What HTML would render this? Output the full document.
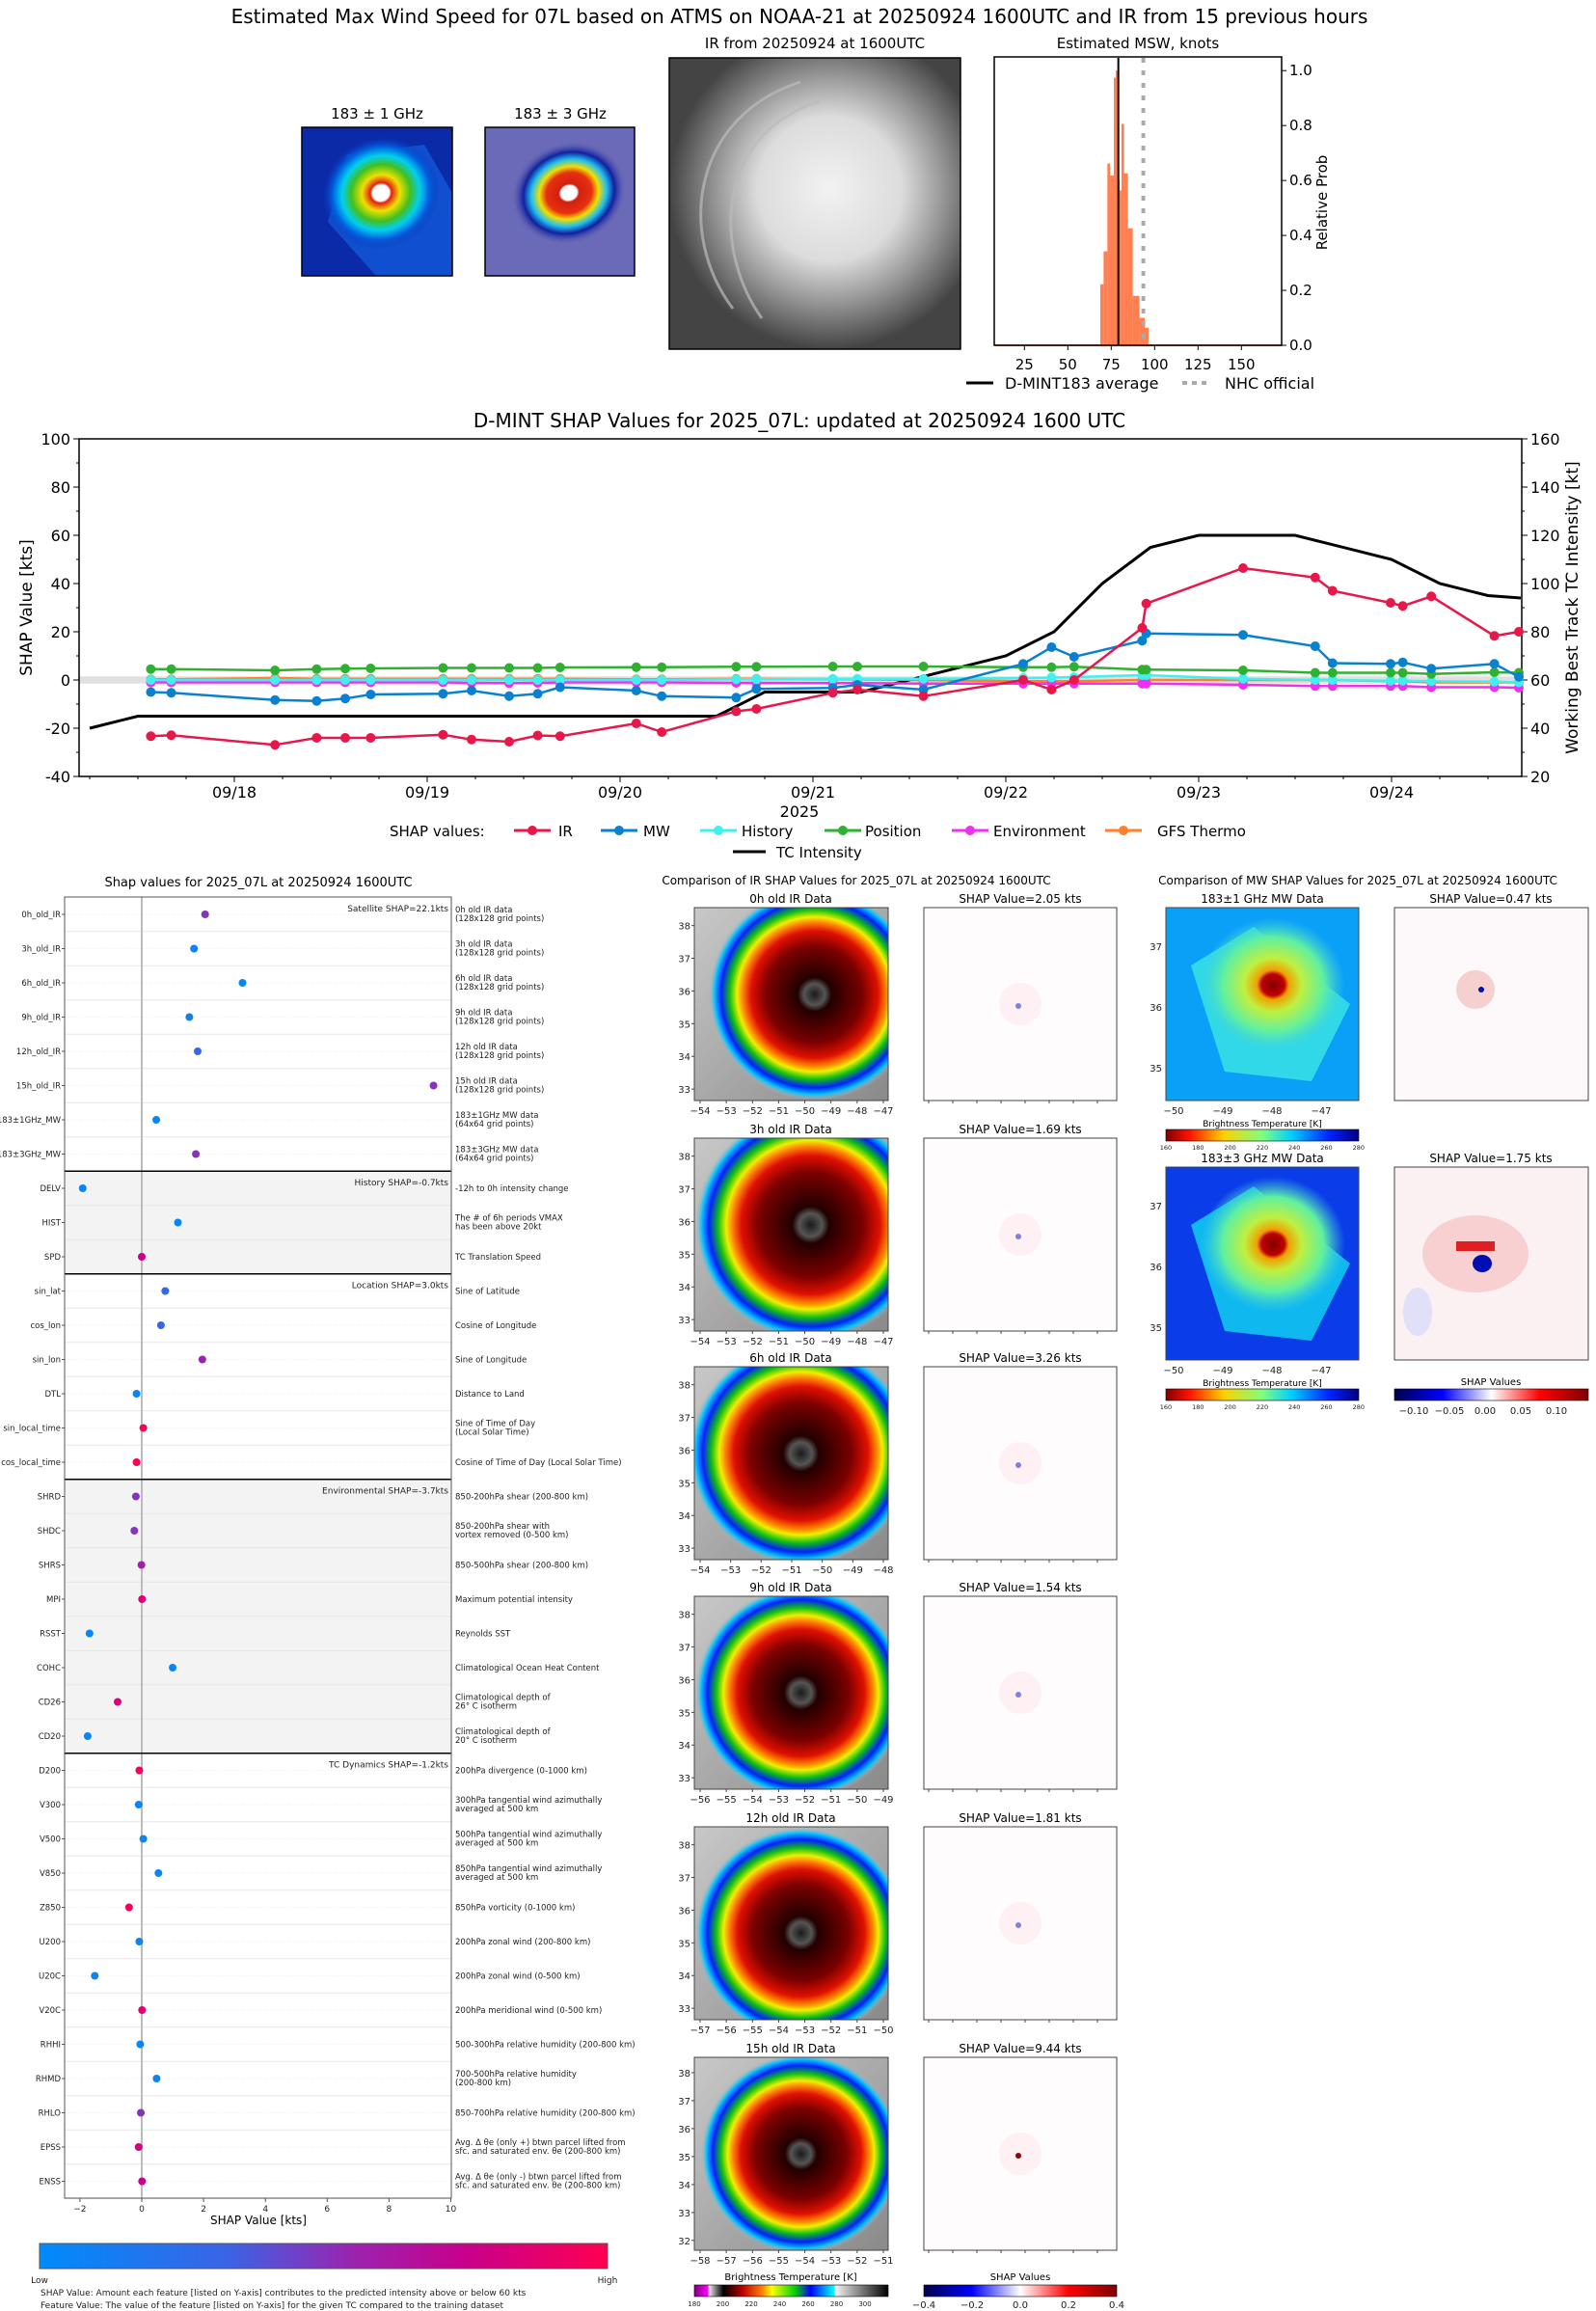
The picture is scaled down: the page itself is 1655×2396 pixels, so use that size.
<!DOCTYPE html>
<html><head><meta charset="utf-8"><title>D-MINT SHAP</title>
<style>
html,body{margin:0;padding:0;background:#fff;}
svg{display:block;font-family:"DejaVu Sans","Liberation Sans",sans-serif;}
</style></head>
<body>
<svg id="root" xmlns="http://www.w3.org/2000/svg" width="1655" height="2396" viewBox="0 0 1655 2396">
<defs>
 <radialGradient id="irg" cx="0.5" cy="0.5" r="0.5">
  <stop offset="0" stop-color="#1a1a1a"/><stop offset="0.1" stop-color="#555"/>
  <stop offset="0.16" stop-color="#220000"/><stop offset="0.45" stop-color="#7a0000"/>
  <stop offset="0.6" stop-color="#e01000"/><stop offset="0.68" stop-color="#ff8800"/>
  <stop offset="0.73" stop-color="#f0f000"/><stop offset="0.8" stop-color="#10c010"/>
  <stop offset="0.88" stop-color="#0020ff"/><stop offset="0.94" stop-color="#00c0ff"/>
  <stop offset="1" stop-color="#bbbbbb" stop-opacity="0"/>
 </radialGradient>
 <linearGradient id="grayg" x1="0" y1="0" x2="1" y2="1"><stop offset="0" stop-color="#c8c8c8"/><stop offset="1" stop-color="#8a8a8a"/></linearGradient>
 <radialGradient id="topir" cx="0.55" cy="0.45" r="0.55">
  <stop offset="0" stop-color="#f2f2f2"/><stop offset="0.45" stop-color="#dcdcdc"/><stop offset="0.7" stop-color="#999"/><stop offset="1" stop-color="#444"/>
 </radialGradient>
 <radialGradient id="mw1" cx="0.5" cy="0.5" r="0.5">
  <stop offset="0" stop-color="#ffffff"/><stop offset="0.14" stop-color="#ffffff"/><stop offset="0.18" stop-color="#e02010"/>
  <stop offset="0.32" stop-color="#f0e000"/><stop offset="0.5" stop-color="#40c020"/><stop offset="0.66" stop-color="#00d0f0"/>
  <stop offset="0.82" stop-color="#0060e0"/><stop offset="1" stop-color="#1030b0" stop-opacity="0"/>
 </radialGradient>
 <radialGradient id="mw3" cx="0.5" cy="0.5" r="0.5">
  <stop offset="0" stop-color="#ffffff"/><stop offset="0.14" stop-color="#ffffff"/><stop offset="0.18" stop-color="#d02010"/>
  <stop offset="0.4" stop-color="#e83010"/><stop offset="0.52" stop-color="#f0e000"/><stop offset="0.66" stop-color="#20c0f0"/>
  <stop offset="0.8" stop-color="#1020a0"/><stop offset="1" stop-color="#6060b0" stop-opacity="0"/>
 </radialGradient>
 <radialGradient id="mwr" cx="0.5" cy="0.5" r="0.5">
  <stop offset="0" stop-color="#800000"/><stop offset="0.16" stop-color="#c00000"/><stop offset="0.22" stop-color="#f0a000"/>
  <stop offset="0.4" stop-color="#c0f040"/><stop offset="0.7" stop-color="#60f0a0"/><stop offset="1" stop-color="#40d0e0" stop-opacity="0"/>
 </radialGradient>
 <linearGradient id="shapcb" x1="0" x2="1"><stop offset="0" stop-color="#008bfb"/><stop offset="0.33" stop-color="#3a64e6"/><stop offset="0.55" stop-color="#9a24b0"/><stop offset="0.75" stop-color="#c8008c"/><stop offset="1" stop-color="#ff0051"/></linearGradient>
 <linearGradient id="jetr" x1="0" x2="1"><stop offset="0" stop-color="#800000"/><stop offset="0.12" stop-color="#ff1000"/><stop offset="0.3" stop-color="#ffd000"/><stop offset="0.5" stop-color="#80ff80"/><stop offset="0.65" stop-color="#00d0ff"/><stop offset="0.85" stop-color="#0020ff"/><stop offset="1" stop-color="#000080"/></linearGradient>
 <linearGradient id="seis" x1="0" x2="1"><stop offset="0" stop-color="#00004c"/><stop offset="0.25" stop-color="#0000ff"/><stop offset="0.5" stop-color="#ffffff"/><stop offset="0.75" stop-color="#ff0000"/><stop offset="1" stop-color="#800000"/></linearGradient>
 <linearGradient id="ircb" x1="0" x2="1">
  <stop offset="0" stop-color="#800080"/><stop offset="0.07" stop-color="#ff00ff"/><stop offset="0.075" stop-color="#eee"/><stop offset="0.15" stop-color="#000"/>
  <stop offset="0.25" stop-color="#c00000"/><stop offset="0.35" stop-color="#ff8000"/><stop offset="0.4" stop-color="#ffff00"/><stop offset="0.52" stop-color="#00d000"/>
  <stop offset="0.6" stop-color="#0000ff"/><stop offset="0.72" stop-color="#00ffff"/><stop offset="0.73" stop-color="#f0f0f0"/><stop offset="1" stop-color="#000"/>
 </linearGradient>
</defs>
</svg>
<script>
// ---------------- DATA ----------------
const histEdges = [68.7,70.6,72.8,74.3,76.5,77.6,78.7,79.8,80.9,82.4,84.6,87.4,91.3,94.3,96.5];
const histProbs = [0.222,0.342,0.662,0.618,0.974,1.0,0.6,0.564,0.806,0.626,0.426,0.18,0.10,0.064];
const histMean = 79.1;
const nhcOfficial = 93.5;
const histXTicks = [25,50,75,100,125,150];
const histYTicks = [0.0,0.2,0.4,0.6,0.8,1.0];

const shapTimes = [-0.433,-0.327,0.211,0.427,0.575,0.707,1.082,1.230,1.425,1.573,1.689,2.084,2.216,2.602,2.707,3.103,3.230,3.573,4.090,4.237,4.354,4.707,4.728,5.230,5.604,5.694,5.995,6.058,6.206,6.533,6.660];
const irShap  = [-23.3,-22.9,-26.9,-24,-24,-24,-22.7,-24.7,-25.6,-23,-23.3,-18,-21.6,-13,-12,-5.3,-4,-6.7,0,-4,0,21.6,31.7,46.4,42.5,37,32,30.7,34.7,18.3,20];
const mwShap  = [-5,-5.3,-8.3,-8.7,-7.7,-6,-5.7,-4.4,-6.7,-5.7,-3,-4.4,-6.7,-7.3,-3.7,-3.3,-2,-4,6.7,13.6,9.6,16.3,19.3,18.7,14,7,6.7,7.3,4.7,6.7,1.3];
const histShap= [0,0,0,0,0,0,0,0,0,0,0,0,0,0.3,0.3,0.5,0.5,0.5,0.8,1,1.2,2,2,0.5,0,0,-0.3,-0.3,-0.5,-0.7,-1];
const posShap = [4.5,4.5,4,4.5,4.7,4.8,5,5,5,5,5.2,5.3,5.3,5.5,5.5,5.6,5.6,5.6,5.3,5.3,5.5,4.3,4.3,4,3,3,3,3,2.5,3.2,3];
const envShap = [-1,-1,-1,-1,-1,-1,-1,-1.2,-1.3,-1.2,-1,-1,-1,-1.2,-1.2,-1.3,-1.3,-1.5,-1.5,-1.5,-1.5,-1.5,-1.5,-2,-2.5,-2.5,-2.5,-2.5,-3,-3,-3.2];
const gfsShap = [0.3,0.3,0.8,0.5,0.5,0.5,0.5,0.5,0.5,0.5,0.5,0.3,0.3,0.5,0.5,0.3,0.3,0,-0.5,-0.5,-0.5,0,0,0,0,0,-0.5,-0.5,-1,-1,-1];
const tcTimes = [-0.75,-0.5,2.5,2.75,3.25,4,4.25,4.5,4.75,5,5.5,6,6.25,6.5,6.67];
const tcKts   = [40,45,45,55,55,70,80,100,115,120,120,110,100,95,94];
const dateLabels = ["09/18","09/19","09/20","09/21","09/22","09/23","09/24"];
const leftTicks = [-40,-20,0,20,40,60,80,100];
const rightTicks = [20,40,60,80,100,120,140,160];

const featNames = ["0h_old_IR","3h_old_IR","6h_old_IR","9h_old_IR","12h_old_IR","15h_old_IR","183±1GHz_MW","183±3GHz_MW","DELV","HIST","SPD","sin_lat","cos_lon","sin_lon","DTL","sin_local_time","cos_local_time","SHRD","SHDC","SHRS","MPI","RSST","COHC","CD26","CD20","D200","V300","V500","V850","Z850","U200","U20C","V20C","RHHI","RHMD","RHLO","EPSS","ENSS"];
const featShap = [2.05,1.69,3.26,1.54,1.81,9.44,0.47,1.75,-1.91,1.17,0.0,0.76,0.62,1.96,-0.17,0.05,-0.17,-0.19,-0.24,-0.01,0.01,-1.69,1.0,-0.78,-1.75,-0.08,-0.1,0.05,0.54,-0.41,-0.08,-1.52,0.01,-0.05,0.48,-0.03,-0.1,0.01];
const featValue = [0.5,0.1,0.05,0.1,0.3,0.5,0.05,0.5,0.05,0.05,0.75,0.3,0.3,0.55,0.05,0.97,0.97,0.5,0.5,0.6,0.85,0.05,0.05,0.85,0.05,0.95,0.05,0.05,0.05,0.95,0.05,0.05,0.85,0.05,0.05,0.5,0.8,0.75];
const featDesc = [["0h old IR data","(128x128 grid points)"],["3h old IR data","(128x128 grid points)"],["6h old IR data","(128x128 grid points)"],["9h old IR data","(128x128 grid points)"],["12h old IR data","(128x128 grid points)"],["15h old IR data","(128x128 grid points)"],["183±1GHz MW data","(64x64 grid points)"],["183±3GHz MW data","(64x64 grid points)"],["-12h to 0h intensity change"],["The # of 6h periods VMAX","has been above 20kt"],["TC Translation Speed"],["Sine of Latitude"],["Cosine of Longitude"],["Sine of Longitude"],["Distance to Land"],["Sine of Time of Day","(Local Solar Time)"],["Cosine of Time of Day (Local Solar Time)"],["850-200hPa shear (200-800 km)"],["850-200hPa shear with","vortex removed (0-500 km)"],["850-500hPa shear (200-800 km)"],["Maximum potential intensity"],["Reynolds SST"],["Climatological Ocean Heat Content"],["Climatological depth of","26° C isotherm"],["Climatological depth of","20° C isotherm"],["200hPa divergence (0-1000 km)"],["300hPa tangential wind azimuthally","averaged at 500 km"],["500hPa tangential wind azimuthally","averaged at 500 km"],["850hPa tangential wind azimuthally","averaged at 500 km"],["850hPa vorticity (0-1000 km)"],["200hPa zonal wind (200-800 km)"],["200hPa zonal wind (0-500 km)"],["200hPa meridional wind (0-500 km)"],["500-300hPa relative humidity (200-800 km)"],["700-500hPa relative humidity","(200-800 km)"],["850-700hPa relative humidity (200-800 km)"],["Avg. Δ θe (only +) btwn parcel lifted from","sfc. and saturated env. θe (200-800 km)"],["Avg. Δ θe (only -) btwn parcel lifted from","sfc. and saturated env. θe (200-800 km)"]];
const groupStart = [0,8,11,17,25];
const groupLabels = ["Satellite SHAP=22.1kts","History SHAP=-0.7kts","Location SHAP=3.0kts","Environmental SHAP=-3.7kts","TC Dynamics SHAP=-1.2kts"];
const dotXTicks = [-2,0,2,4,6,8,10];

const irTitles = ["0h old IR Data","3h old IR Data","6h old IR Data","9h old IR Data","12h old IR Data","15h old IR Data"];
const irShapTitles = ["SHAP Value=2.05 kts","SHAP Value=1.69 kts","SHAP Value=3.26 kts","SHAP Value=1.54 kts","SHAP Value=1.81 kts","SHAP Value=9.44 kts"];
const irLonStart = [-54,-54,-54,-56,-57,-58];
const irLonEnd = [-47,-47,-48,-49,-50,-51];
const irLatStart = [33,33,33,33,33,32];

// ---------------- HELPERS ----------------
const NS="http://www.w3.org/2000/svg";
const root=document.getElementById('root');
function mk(tag,attrs,parent){const e=document.createElementNS(NS,tag);for(const k in attrs)e.setAttribute(k,attrs[k]);(parent||root).appendChild(e);return e;}
function tx(x,y,s,size,anchor,parent,extra){const e=mk('text',Object.assign({x:x,y:y,'font-size':size,'text-anchor':anchor||'start',fill:'#000'},extra||{}),parent);e.textContent=s;return e;}
function lerpC(a,b,t){return a.map((v,i)=>Math.round(v+(b[i]-v)*t));}
function shapColor(v){const st=[[0,[0,139,251]],[0.33,[58,100,230]],[0.55,[154,36,176]],[0.75,[200,0,140]],[1,[255,0,81]]];for(let i=0;i<st.length-1;i++){if(v<=st[i+1][0]){const t=(v-st[i][0])/(st[i+1][0]-st[i][0]);const c=lerpC(st[i][1],st[i+1][1],t);return `rgb(${c[0]},${c[1]},${c[2]})`;}}return 'rgb(255,0,81)';}
let e;

// ---------------- TOP SECTION ----------------
e=tx(829,24,"Estimated Max Wind Speed for 07L based on ATMS on NOAA-21 at 20250924 1600UTC and IR from 15 previous hours",20,'middle');



const g1=mk('g',{});


tx(391,123,"183 ± 1 GHz",15,'middle',g1);
mk('rect',{x:313,y:132,width:156,height:154,fill:'#0a2aa8'},g1);
mk('polygon',{points:'360,160 440,150 469,200 469,286 390,286 340,230',fill:'#1050d0'},g1);
mk('ellipse',{cx:395,cy:200,rx:62,ry:58,fill:'url(#mw1)',transform:'rotate(-25 395 200)'},g1);
mk('rect',{x:313,y:132,width:156,height:154,fill:'none',stroke:'#000','stroke-width':1.5},g1);
const g2=mk('g',{});


tx(581,123,"183 ± 3 GHz",15,'middle',g2);
mk('rect',{x:503,y:132,width:155,height:154,fill:'#6a6ab8'},g2);
mk('ellipse',{cx:590,cy:200,rx:60,ry:52,fill:'url(#mw3)',transform:'rotate(-20 590 200)'},g2);
mk('rect',{x:503,y:132,width:155,height:154,fill:'none',stroke:'#000','stroke-width':1.5},g2);
const g3=mk('g',{});


tx(845,50,"IR from 20250924 at 1600UTC",15,'middle',g3);
mk('rect',{x:694,y:60,width:302,height:302,fill:'url(#topir)'},g3);
mk('path',{d:'M760,320 C700,240 720,120 830,85 M790,330 C740,260 740,140 850,105',stroke:'#bbb','stroke-width':3,fill:'none',opacity:0.7},g3);
mk('rect',{x:694,y:60,width:302,height:302,fill:'none',stroke:'#000','stroke-width':1.5},g3);

const hg=mk('g',{});


const hx=k=>1152.3+(k-75)*1.8, hy=p=>358-p*284.8;
tx(1180,50,"Estimated MSW, knots",15,'middle',hg);
mk('line',{x1:1032,y1:hy(0),x2:1329,y2:hy(0),stroke:'#ff7f50','stroke-width':2},hg);
for(let i=0;i<histProbs.length;i++){
 const b=mk('rect',{x:hx(histEdges[i]),y:hy(histProbs[i]),width:hx(histEdges[i+1])-hx(histEdges[i]),height:histProbs[i]*284.8,fill:'#ff7f50'},hg);
 
 
}
e=mk('line',{x1:hx(histMean),y1:60,x2:hx(histMean),y2:358,stroke:'#000','stroke-width':2},hg);

e=mk('line',{x1:hx(nhcOfficial),y1:60,x2:hx(nhcOfficial),y2:358,stroke:'#aaa','stroke-width':4,'stroke-dasharray':'5,8'},hg);

mk('rect',{x:1031,y:59,width:298,height:299,fill:'none',stroke:'#000','stroke-width':1.5},hg);
histXTicks.forEach(k=>{mk('line',{x1:hx(k),y1:358,x2:hx(k),y2:363,stroke:'#000'},hg);tx(hx(k),383,String(k),15,'middle',hg);});
histYTicks.forEach(p=>{mk('line',{x1:1329,y1:hy(p),x2:1334,y2:hy(p),stroke:'#000'},hg);tx(1337,hy(p)+5,p.toFixed(1),15,'start',hg);});
tx(1376,210,"Relative Prob",15,'middle',hg,{transform:'rotate(-90 1376 210)'});
const tl=mk('g',{});


mk('line',{x1:1002,y1:397,x2:1030,y2:397,stroke:'#000','stroke-width':3},tl);
tx(1042,403,"D-MINT183 average",16,'start',tl);
mk('line',{x1:1226,y1:397,x2:1252,y2:397,stroke:'#aaa','stroke-width':4,'stroke-dasharray':'5,5'},tl);
tx(1270,403,"NHC official",16,'start',tl);

// ---------------- SHAP TIME SERIES ----------------
const cg=mk('g',{});


const X=t=>243+200*t, Y=v=>455+(100-v)*2.5, YR=k=>Y(k-60);
const AX0=82, AX1=1578;
tx(829,443,"D-MINT SHAP Values for 2025_07L: updated at 20250924 1600 UTC",20,'middle',cg);
mk('rect',{x:AX0,y:Y(1.5),width:AX1-AX0,height:7.5,fill:'#e0e0e0'},cg);
mk('rect',{x:AX0,y:455,width:AX1-AX0,height:350,fill:'none',stroke:'#000','stroke-width':1.5},cg);
leftTicks.forEach(v=>{mk('line',{x1:AX0-6,y1:Y(v),x2:AX0,y2:Y(v),stroke:'#000'},cg);tx(AX0-9,Y(v)+6,String(v),16,'end',cg);});
for(let v=-30;v<100;v+=20){mk('line',{x1:AX0-3,y1:Y(v),x2:AX0,y2:Y(v),stroke:'#000'},cg);}
rightTicks.forEach(k=>{mk('line',{x1:AX1,y1:YR(k),x2:AX1+6,y2:YR(k),stroke:'#000'},cg);tx(AX1+9,YR(k)+6,String(k),16,'start',cg);});
for(let k=30;k<160;k+=20){mk('line',{x1:AX1,y1:YR(k),x2:AX1+3,y2:YR(k),stroke:'#000'},cg);}
dateLabels.forEach((d,i)=>{mk('line',{x1:X(i),y1:805,x2:X(i),y2:811,stroke:'#000'},cg);tx(X(i),827,d,16,'middle',cg);});
for(let t=-0.75;t<6.7;t+=0.25){if(Math.abs(t-Math.round(t))>0.01)mk('line',{x1:X(t),y1:805,x2:X(t),y2:808,stroke:'#000'},cg);}
tx(829,847,"2025",16,'middle',cg);
tx(33,630,"SHAP Value [kts]",17,'middle',cg,{transform:'rotate(-90 33 630)'});
tx(1636,630,"Working Best Track TC Intensity [kt]",17,'middle',cg,{transform:'rotate(-90 1636 630)'});
let tcd=tcTimes.map((t,i)=>(i?'L':'M')+X(t).toFixed(1)+','+YR(tcKts[i]).toFixed(1)).join(' ');
e=mk('path',{d:tcd,stroke:'#000','stroke-width':3,fill:'none'},cg);


const series=[["gfs-thermo",gfsShap,'#ff7f2a'],["environment",envShap,'#f030f0'],["history",histShap,'#40f0f0'],["position",posShap,'#30b030'],["mw",mwShap,'#0a80d0'],["ir",irShap,'#e8174a']];
series.forEach(s=>{
 const d=shapTimes.map((t,i)=>(i?'L':'M')+X(t).toFixed(1)+','+Y(s[1][i]).toFixed(1)).join(' ');
 const p=mk('path',{d:d,stroke:s[2],'stroke-width':2.5,fill:'none'},cg);
 
 
 shapTimes.forEach((t,i)=>{
  const c=mk('circle',{cx:X(t),cy:Y(s[1][i]),r:5,fill:s[2]},cg);
  
  
 });
});
const lg=mk('g',{});


tx(404,867,"SHAP values:",15,'start',lg);
[["IR",533,579,'#e8174a'],["MW",623,667,'#0a80d0'],["History",726,769,'#40f0f0'],["Position",855,897,'#30b030'],["Environment",987,1030,'#f030f0'],["GFS Thermo",1146,1200,'#ff7f2a']].forEach(l=>{
 mk('line',{x1:l[1],y1:861,x2:l[1]+38,y2:861,stroke:l[3],'stroke-width':3},lg);
 mk('circle',{cx:l[1]+19,cy:861,r:5,fill:l[3]},lg);
 tx(l[2],867,l[0],15,'start',lg);
});
mk('line',{x1:760,y1:883,x2:794,y2:883,stroke:'#000','stroke-width':3},lg);
tx(805,889,"TC Intensity",15,'start',lg);

// ---------------- FEATURE DOT PLOT ----------------
const dg=mk('g',{});


const DX=v=>147+v*32.05, RY=i=>948+i*35.5;
const DL=67, DR=468, DT=930, DB=2279;
tx(268,919,"Shap values for 2025_07L at 20250924 1600UTC",13,'middle',dg);
mk('rect',{x:DL,y:RY(8)-17.75,width:DR-DL,height:35.5*3,fill:'#f3f3f3'},dg);
mk('rect',{x:DL,y:RY(17)-17.75,width:DR-DL,height:35.5*8,fill:'#f3f3f3'},dg);
for(let i=0;i<featNames.length;i++){
 mk('line',{x1:DL,y1:RY(i)+17.75,x2:DR,y2:RY(i)+17.75,stroke:'#e6e6e6','stroke-width':1},dg);
 mk('line',{x1:DL,y1:RY(i),x2:DR,y2:RY(i),stroke:'#eee','stroke-width':1,'stroke-dasharray':'1,2'},dg);
}
mk('line',{x1:DX(0),y1:DT,x2:DX(0),y2:DB,stroke:'#bbb','stroke-width':2},dg);
groupStart.forEach((g,i)=>{
 if(i>0)mk('line',{x1:DL,y1:RY(g)-17.75,x2:DR,y2:RY(g)-17.75,stroke:'#000','stroke-width':1.5},dg);
 tx(DR-3,RY(g)-3,groupLabels[i],9,'end',dg,{fill:'#222'});
});
mk('rect',{x:DL,y:DT,width:DR-DL,height:DB-DT,fill:'none',stroke:'#555','stroke-width':1},dg);
featNames.forEach((n,i)=>{
 tx(DL-4,RY(i)+3,n,8.5,'end',dg,{fill:'#222'});
 mk('line',{x1:DL-3,y1:RY(i),x2:DL,y2:RY(i),stroke:'#555'},dg);
 const d=featDesc[i];
 if(d.length===1) tx(DR+4,RY(i)+3,d[0],8.5,'start',dg,{fill:'#222'});
 else {tx(DR+4,RY(i)-2,d[0],8.5,'start',dg,{fill:'#222'});tx(DR+4,RY(i)+7,d[1],8.5,'start',dg,{fill:'#222'});}
 const c=mk('circle',{cx:DX(featShap[i]),cy:RY(i),r:4,fill:shapColor(featValue[i])},dg);
 
 
});
dotXTicks.forEach(v=>{mk('line',{x1:DX(v),y1:DB,x2:DX(v),y2:DB+4,stroke:'#555'},dg);tx(DX(v),DB+14,v<0?'−'+(-v):String(v),9,'middle',dg,{fill:'#222'});});
tx(268,2306,"SHAP Value [kts]",12,'middle',dg);
e=mk('rect',{x:41,y:2326,width:589,height:26,fill:'url(#shapcb)',stroke:'#555','stroke-width':1});


tx(41,2367,"Low",9,'middle',null,{fill:'#222'});
tx(630,2367,"High",9,'middle',null,{fill:'#222'});
tx(42,2380,"SHAP Value: Amount each feature [listed on Y-axis] contributes to the predicted intensity above or below 60 kts",9,'start',null,{fill:'#222'});
tx(42,2393,"Feature Value: The value of the feature [listed on Y-axis] for the given TC compared to the training dataset",9,'start',null,{fill:'#222'});

// ---------------- IR SHAP PANELS ----------------
const ig=mk('g',{});


tx(888,917,"Comparison of IR SHAP Values for 2025_07L at 20250924 1600UTC",12,'middle',ig);
const rowY=[941,1180,1417,1655,1894,2133];
const ctr=[[0.62,0.45,0.55],[0.6,0.45,0.6],[0.55,0.45,0.58],[0.55,0.5,0.55],[0.55,0.55,0.55],[0.55,0.5,0.52]];
rowY.forEach((y,i)=>{
 const p=mk('g',{},ig);
 
 
 tx(820,y-5,irTitles[i],12,'middle',p);
 const cid='clip'+i;const cp=mk('clipPath',{id:cid},p);mk('rect',{x:720,y:y,width:201,height:200},cp);
 const inner=mk('g',{'clip-path':'url(#'+cid+')'},p);
 mk('rect',{x:720,y:y,width:201,height:200,fill:'url(#grayg)'},inner);
 const c=ctr[i];
 mk('circle',{cx:720+201*c[0],cy:y+200*c[1],r:200*c[2],fill:'url(#irg)'},inner);
 mk('rect',{x:720,y:y,width:201,height:200,fill:'none',stroke:'#444'},p);
 const lat0=irLatStart[i];const nlat=39-lat0;
 for(let k=0;k<nlat;k++){const yy=y+200-(k+0.35)*200/(nlat-0.1);tx(716,yy+4,String(lat0+k),10,'end',p,{fill:'#222'});mk('line',{x1:717,y1:yy,x2:720,y2:yy,stroke:'#444'},p);}
 const n=irLonEnd[i]-irLonStart[i];
 for(let k=0;k<=n;k++){const xx=726+k*190/n;tx(xx,y+214,'−'+(-(irLonStart[i]+k)),10,'middle',p,{fill:'#222'});mk('line',{x1:xx,y1:y+200,x2:xx,y2:y+203,stroke:'#444'},p);}
 const s=mk('g',{},ig);
 
 
 tx(1058,y-5,irShapTitles[i],12,'middle',s);
 mk('rect',{x:958,y:y,width:200,height:200,fill:'#fffcfd',stroke:'#444'},s);
 mk('circle',{cx:1058,cy:y+100,r:22,fill:'#fde8ec',opacity:0.6},s);
 mk('circle',{cx:1056,cy:y+102,r:3,fill:i===5?'#900':'#8080e0'},s);
 for(let k=0;k<8;k++){mk('line',{x1:963+k*25,y1:y+200,x2:963+k*25,y2:y+203,stroke:'#444'},s);}
});
tx(820,2364,"Brightness Temperature [K]",10,'middle');
e=mk('rect',{x:720,y:2369,width:201,height:12,fill:'url(#ircb)',stroke:'#000','stroke-width':0.6});


[180,200,220,240,260,280,300].forEach((v,k)=>tx(720+k*29.5,2391,String(v),7,'middle',null,{fill:'#222'}));
tx(1058,2364,"SHAP Values",10,'middle');
e=mk('rect',{x:958,y:2369,width:200,height:12,fill:'url(#seis)',stroke:'#000','stroke-width':0.6});


["−0.4","−0.2","0.0","0.2","0.4"].forEach((v,k)=>tx(958+k*50,2393,v,10,'middle',null,{fill:'#222'}));

// ---------------- MW SHAP PANELS ----------------
const mg=mk('g',{});


tx(1408,917,"Comparison of MW SHAP Values for 2025_07L at 20250924 1600UTC",12,'middle',mg);
const mwY=[941,1210];
const mwTitles=["183±1 GHz MW Data","183±3 GHz MW Data"];
const mwShapTitles=["SHAP Value=0.47 kts","SHAP Value=1.75 kts"];
const mwBg=['#0aa0f8','#0a3ce8'];
mwY.forEach((y,i)=>{
 const p=mk('g',{},mg);
 
 
 tx(1309,y-5,mwTitles[i],12,'middle',p);
 mk('rect',{x:1209,y:y,width:200,height:200,fill:mwBg[i]},p);
 mk('polygon',{points:`${1235},${y+60} ${1300},${y+20} ${1400},${y+100} ${1360},${y+180} ${1270},${y+170}`,fill:i?'#10b8f0':'#30d8e8'},p);
 mk('ellipse',{cx:1320,cy:y+80,rx:75,ry:70,fill:'url(#mwr)'},p);
 mk('rect',{x:1209,y:y,width:200,height:200,fill:'none',stroke:'#444'},p);
 [37,36,35].forEach((v,k)=>{const yy=y+40+k*63;tx(1205,yy+4,String(v),10,'end',p,{fill:'#222'});});
 [-50,-49,-48,-47].forEach((v,k)=>tx(1217+k*51,y+214,'−'+(-v),10,'middle',p,{fill:'#222'}));
 tx(1309,y+227,"Brightness Temperature [K]",9,'middle',p);
 mk('rect',{x:1209,y:y+230,width:200,height:12,fill:'url(#jetr)',stroke:'#000','stroke-width':0.6},p);
 [160,180,200,220,240,260,280].forEach((v,k)=>tx(1209+k*33.3,y+251,String(v),6.5,'middle',p,{fill:'#222'}));
 const s=mk('g',{},mg);
 
 
 tx(1546,y-5,mwShapTitles[i],12,'middle',s);
 mk('rect',{x:1446,y:y,width:201,height:200,fill:i?'#fbf0f2':'#fdf9fa',stroke:'#444'},s);
 if(i===1){
  mk('ellipse',{cx:1530,cy:y+90,rx:55,ry:40,fill:'#f8c8c8',opacity:0.8},s);
  mk('rect',{x:1510,y:y+77,width:40,height:10,fill:'#e02020'},s);
  mk('ellipse',{cx:1537,cy:y+100,rx:10,ry:9,fill:'#0010b0'},s);
  mk('ellipse',{cx:1470,cy:y+150,rx:15,ry:25,fill:'#e0e0f8'},s);
 } else {
  mk('ellipse',{cx:1530,cy:y+85,rx:20,ry:20,fill:'#f4c4c4',opacity:0.8},s);
  mk('circle',{cx:1536,cy:y+85,r:3,fill:'#0010b0'},s);
 }
});
tx(1546,1436,"SHAP Values",10,'middle');
e=mk('rect',{x:1446,y:1440,width:201,height:12,fill:'url(#seis)',stroke:'#000','stroke-width':0.6});


["−0.10","−0.05","0.00","0.05","0.10"].forEach((v,k)=>tx(1466+k*37,1466,v,10,'middle',null,{fill:'#222'}));
</script>
</body></html>
